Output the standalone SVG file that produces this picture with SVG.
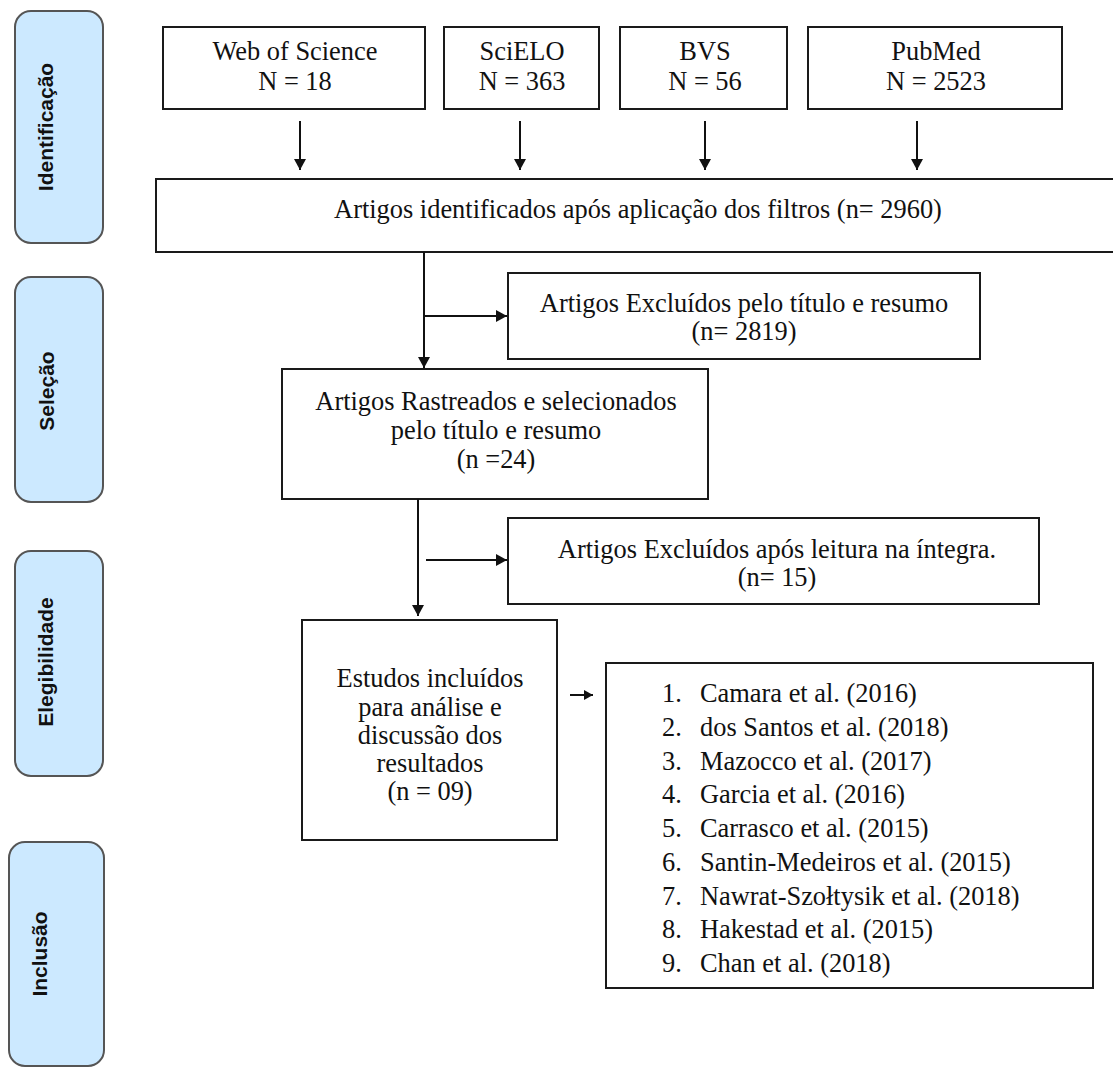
<svg xmlns="http://www.w3.org/2000/svg" width="1113" height="1068" viewBox="0 0 1113 1068">
<style>
.box{fill:#fff;stroke:#1a1a1a;stroke-width:2}
.phase{fill:#cce9ff;stroke:#555;stroke-width:2}
.t{font-family:"Liberation Serif","Times New Roman",serif;font-size:26.4px;fill:#111}
.c{text-anchor:middle}
.p{font-family:"Liberation Sans",Arial,sans-serif;font-weight:bold;font-size:21px;fill:#111;text-anchor:middle}
.ln{stroke:#111;stroke-width:2;fill:none}
</style>
<defs>
<marker id="ah" markerWidth="12" markerHeight="12" refX="11" refY="6" orient="auto" markerUnits="userSpaceOnUse">
<path d="M0,0 L11,6 L0,12 Z" fill="#111"/>
</marker>
<marker id="ahs" markerWidth="10" markerHeight="10" refX="9" refY="5" orient="auto" markerUnits="userSpaceOnUse">
<path d="M0,0 L9,5 L0,10 Z" fill="#111"/>
</marker>
</defs>

<g id="phase-identificacao">
<rect class="phase" x="15" y="11" width="88" height="232" rx="16"/>
<text class="p" transform="translate(53,127) rotate(-90)">Identificação</text>
</g>
<g id="phase-selecao">
<rect class="phase" x="15" y="277" width="88" height="225" rx="16"/>
<text class="p" transform="translate(54,391) rotate(-90)">Seleção</text>
</g>
<g id="phase-elegibilidade">
<rect class="phase" x="15" y="551" width="88" height="225" rx="16"/>
<text class="p" transform="translate(53,662) rotate(-90)">Elegibilidade</text>
</g>
<g id="phase-inclusao">
<rect class="phase" x="9" y="842" width="95" height="224" rx="16"/>
<text class="p" transform="translate(47,954) rotate(-90)">Inclusão</text>
</g>

<g id="wos">
<rect class="box" x="163" y="27" width="262" height="82"/>
<text class="t c" x="295" y="60">Web of Science</text>
<text class="t c" x="295" y="90">N = 18</text>
</g>
<g id="scielo">
<rect class="box" x="444" y="27" width="155" height="82"/>
<text class="t c" x="522" y="60">SciELO</text>
<text class="t c" x="522" y="90">N = 363</text>
</g>
<g id="bvs">
<rect class="box" x="620" y="27" width="167" height="82"/>
<text class="t c" x="705" y="60">BVS</text>
<text class="t c" x="705" y="90">N = 56</text>
</g>
<g id="pubmed">
<rect class="box" x="808" y="27" width="254" height="82"/>
<text class="t c" x="936" y="60">PubMed</text>
<text class="t c" x="936" y="90">N = 2523</text>
</g>

<g id="identificados">
<rect class="box" x="156" y="179" width="962" height="73"/>
<text class="t c" x="638" y="218">Artigos identificados após aplicação dos filtros (n= 2960)</text>
</g>

<g id="excluidos1">
<rect class="box" x="508" y="273" width="472" height="86"/>
<text class="t c" x="744" y="312">Artigos Excluídos pelo título e resumo</text>
<text class="t c" x="744" y="340">(n= 2819)</text>
</g>

<g id="rastreados">
<rect class="box" x="282" y="369" width="426" height="130"/>
<text class="t c" x="496" y="410">Artigos Rastreados e selecionados</text>
<text class="t c" x="496" y="439">pelo título e resumo</text>
<text class="t c" x="496" y="468">(n =24)</text>
</g>

<g id="excluidos2">
<rect class="box" x="508" y="518" width="531" height="86"/>
<text class="t c" x="777" y="558">Artigos Excluídos após leitura na íntegra.</text>
<text class="t c" x="777" y="586">(n= 15)</text>
</g>

<g id="estudos">
<rect class="box" x="302" y="620" width="255" height="220"/>
<text class="t c" x="430" y="687">Estudos incluídos</text>
<text class="t c" x="430" y="716">para análise e</text>
<text class="t c" x="430" y="744">discussão dos</text>
<text class="t c" x="430" y="772">resultados</text>
<text class="t c" x="430" y="800">(n = 09)</text>
</g>

<g id="lista">
<rect class="box" x="606" y="663" width="487" height="325"/>
<g class="t">
<text x="662" y="702">1.</text><text x="700" y="702">Camara et al. (2016)</text>
<text x="662" y="736">2.</text><text x="700" y="736">dos Santos et al. (2018)</text>
<text x="662" y="770">3.</text><text x="700" y="770">Mazocco et al. (2017)</text>
<text x="662" y="803">4.</text><text x="700" y="803">Garcia et al. (2016)</text>
<text x="662" y="837">5.</text><text x="700" y="837">Carrasco et al. (2015)</text>
<text x="662" y="871">6.</text><text x="700" y="871">Santin-Medeiros et al. (2015)</text>
<text x="662" y="905">7.</text><text x="700" y="905">Nawrat-Szołtysik et al. (2018)</text>
<text x="662" y="938">8.</text><text x="700" y="938">Hakestad et al. (2015)</text>
<text x="662" y="972">9.</text><text x="700" y="972">Chan et al. (2018)</text>
</g>
</g>

<g id="connectors">
<line class="ln" x1="300" y1="121" x2="300" y2="170" marker-end="url(#ah)"/>
<line class="ln" x1="520" y1="121" x2="520" y2="170" marker-end="url(#ah)"/>
<line class="ln" x1="705" y1="121" x2="705" y2="170" marker-end="url(#ah)"/>
<line class="ln" x1="917" y1="121" x2="917" y2="170" marker-end="url(#ah)"/>
<line class="ln" x1="424" y1="252" x2="424" y2="368" marker-end="url(#ah)"/>
<line class="ln" x1="424" y1="316" x2="507" y2="316" marker-end="url(#ah)"/>
<line class="ln" x1="418" y1="499" x2="418" y2="616" marker-end="url(#ah)"/>
<line class="ln" x1="426" y1="560" x2="507" y2="560" marker-end="url(#ah)"/>
<line class="ln" x1="570" y1="695" x2="593" y2="695" marker-end="url(#ahs)"/>
</g>
</svg>
